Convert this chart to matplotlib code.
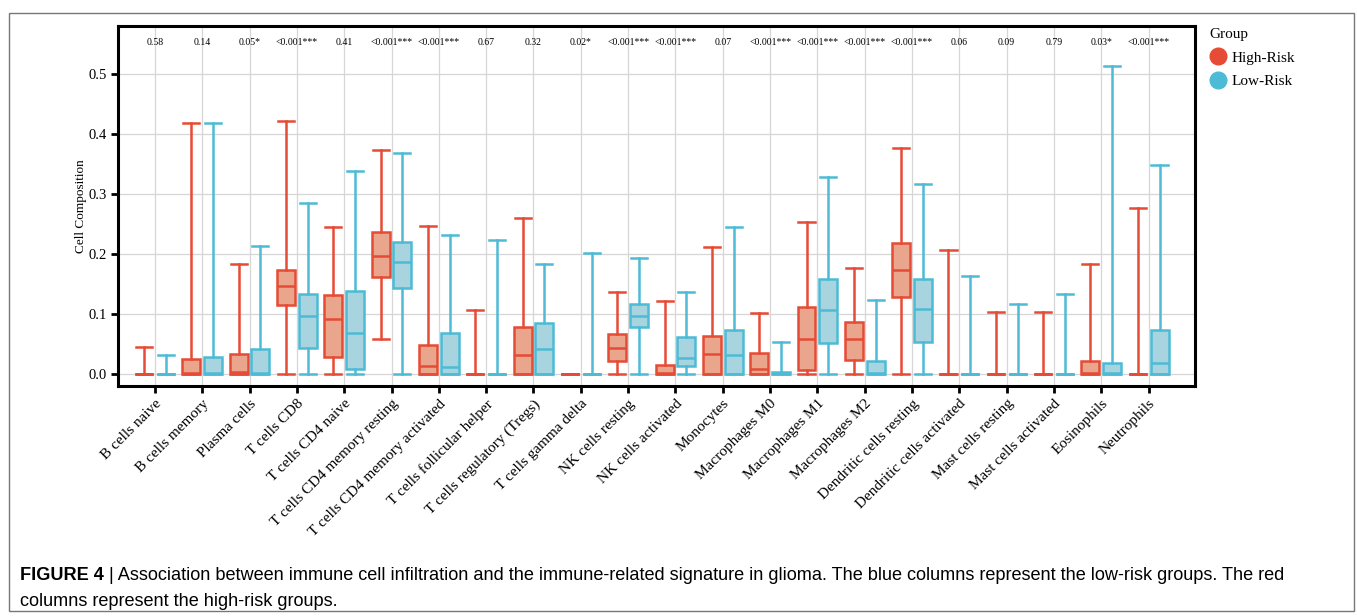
import numpy as np
import matplotlib
matplotlib.use("Agg")
import matplotlib.pyplot as plt
from matplotlib.lines import Line2D
from matplotlib.patches import Rectangle

cells = ["B cells naive", "B cells memory", "Plasma cells", "T cells CD8", "T cells CD4 naive",
         "T cells CD4 memory resting", "T cells CD4 memory activated", "T cells follicular helper",
         "T cells regulatory (Tregs)", "T cells gamma delta", "NK cells resting", "NK cells activated",
         "Monocytes", "Macrophages M0", "Macrophages M1", "Macrophages M2", "Dendritic cells resting",
         "Dendritic cells activated", "Mast cells resting", "Mast cells activated", "Eosinophils",
         "Neutrophils"]

pvals = ["0.58", "0.14", "0.05*", "<0.001***", "0.41", "<0.001***", "<0.001***", "0.67", "0.32",
         "0.02*", "<0.001***", "<0.001***", "0.07", "<0.001***", "<0.001***", "<0.001***",
         "<0.001***", "0.06", "0.09", "0.79", "0.03*", "<0.001***"]

# five-number summaries: (lower whisker, q1, median, q3, upper whisker)
high_risk = [
    (0, 0, 0, 0, 0.045),
    (0, 0, 0.001, 0.025, 0.419),
    (0, 0, 0.003, 0.033, 0.183),
    (0, 0.115, 0.147, 0.174, 0.421),
    (0, 0.028, 0.092, 0.131, 0.245),
    (0.058, 0.162, 0.196, 0.236, 0.374),
    (0, 0, 0.014, 0.048, 0.247),
    (0, 0, 0, 0, 0.107),
    (0, 0, 0.031, 0.079, 0.260),
    (0, 0, 0, 0, 0),
    (0, 0.022, 0.043, 0.066, 0.137),
    (0, 0, 0.001, 0.015, 0.121),
    (0, 0, 0.033, 0.063, 0.211),
    (0, 0, 0.009, 0.035, 0.101),
    (0, 0.006, 0.059, 0.112, 0.254),
    (0, 0.023, 0.058, 0.086, 0.176),
    (0, 0.129, 0.173, 0.218, 0.376),
    (0, 0, 0, 0, 0.206),
    (0, 0, 0, 0, 0.103),
    (0, 0, 0, 0, 0.104),
    (0, 0, 0.001, 0.021, 0.184),
    (0, 0, 0, 0, 0.277),
]
low_risk = [
    (0, 0, 0, 0, 0.031),
    (0, 0, 0.001, 0.028, 0.419),
    (0, 0, 0.001, 0.041, 0.213),
    (0, 0.044, 0.097, 0.133, 0.285),
    (0, 0.008, 0.068, 0.138, 0.339),
    (0, 0.144, 0.186, 0.220, 0.368),
    (0, 0, 0.012, 0.068, 0.232),
    (0, 0, 0, 0, 0.224),
    (0, 0, 0.042, 0.085, 0.183),
    (0, 0, 0, 0, 0.201),
    (0, 0.079, 0.097, 0.116, 0.193),
    (0, 0.013, 0.027, 0.062, 0.137),
    (0, 0, 0.032, 0.074, 0.245),
    (0, 0, 0.002, 0.004, 0.054),
    (0, 0.051, 0.107, 0.158, 0.328),
    (0, 0, 0.001, 0.021, 0.124),
    (0, 0.053, 0.109, 0.158, 0.317),
    (0, 0, 0, 0, 0.164),
    (0, 0, 0, 0, 0.117),
    (0, 0, 0, 0, 0.134),
    (0, 0, 0.001, 0.019, 0.514),
    (0, 0, 0.018, 0.073, 0.349),
]

red = "#E64B35"
red_fill = "#EAA68C"
blue = "#4DBBD5"
blue_fill = "#A8D4E0"

plt.rcParams["font.family"] = ["Liberation Serif", "DejaVu Serif"]

fig = plt.figure(figsize=(13.57, 6.16), dpi=100)
ax = fig.add_axes([118 / 1357, 1 - 386 / 616, (1195 - 118) / 1357, (386 - 26) / 616])


def to_stats(rows):
    out = []
    for lo, q1, med, q3, hi in rows:
        out.append({"whislo": lo, "q1": q1, "med": med, "q3": q3, "whishi": hi, "fliers": []})
    return out


x = np.arange(len(cells))
for rows, off, c, fc in [(high_risk, -0.23, red, red_fill), (low_risk, 0.23, blue, blue_fill)]:
    ax.bxp(to_stats(rows), positions=x + off, widths=0.38, capwidths=0.34, patch_artist=True,
           showfliers=False,
           boxprops=dict(facecolor=fc, edgecolor=c, linewidth=1.8),
           medianprops=dict(color=c, linewidth=1.8),
           whiskerprops=dict(color=c, linewidth=1.8),
           capprops=dict(color=c, linewidth=1.8),
           manage_ticks=False, zorder=3)

for i, p in enumerate(pvals):
    ax.text(i, 0.552, p, ha="center", va="center", fontsize=7)

ax.set_xlim(-0.78, 21.98)
ax.set_ylim(-0.02, 0.58)
ax.set_xticks(x)
ax.set_xticklabels(cells, rotation=45, ha="right", rotation_mode="anchor", fontsize=11)
ax.set_yticks([0, 0.1, 0.2, 0.3, 0.4, 0.5])
ax.set_yticklabels(["0.0", "0.1", "0.2", "0.3", "0.4", "0.5"], fontsize=10.5)
ax.set_ylabel("Cell Composition", fontsize=9.5, labelpad=1)
ax.grid(True, color="#d6d6d6", linewidth=0.9, zorder=0)
ax.set_axisbelow(True)
for s in ax.spines.values():
    s.set_linewidth(2.2)
ax.tick_params(axis="both", length=5, width=2, pad=3)

handles = [Line2D([], [], marker="o", linestyle="none", markersize=12, color=red),
           Line2D([], [], marker="o", linestyle="none", markersize=12, color=blue)]
fig.legend(handles, ["High-Risk", "Low-Risk"], title="Group", loc="upper left",
           bbox_to_anchor=(1203 / 1357, 1 - 22 / 616), frameon=False, fontsize=11,
           title_fontsize=11, alignment="left", handletextpad=0.3, labelspacing=0.65,
           handlelength=1.2, borderaxespad=0)

# caption
bold = fig.text(20 / 1357, 1 - 580 / 616, "FIGURE 4", fontsize=13.1, fontweight="bold",
                family=["Liberation Sans"], va="baseline")
ax.annotate(" | Association between immune cell infiltration and the immune-related signature in glioma. "
            "The blue columns represent the low-risk groups. The red",
            xy=(1, 0), xycoords=bold, va="bottom", ha="left", fontsize=13.1,
            family=["Liberation Sans"], annotation_clip=False)
fig.text(20 / 1357, 1 - 606 / 616, "columns represent the high-risk groups.", fontsize=13.1,
         family=["Liberation Sans"], va="baseline")

fig.patches.append(Rectangle((9 / 1357, 5 / 616), (1354 - 9) / 1357, (607 - 9) / 616,
                             transform=fig.transFigure, fill=False, edgecolor="#777777",
                             linewidth=1.0))

fig.savefig("out.png", dpi=100)
